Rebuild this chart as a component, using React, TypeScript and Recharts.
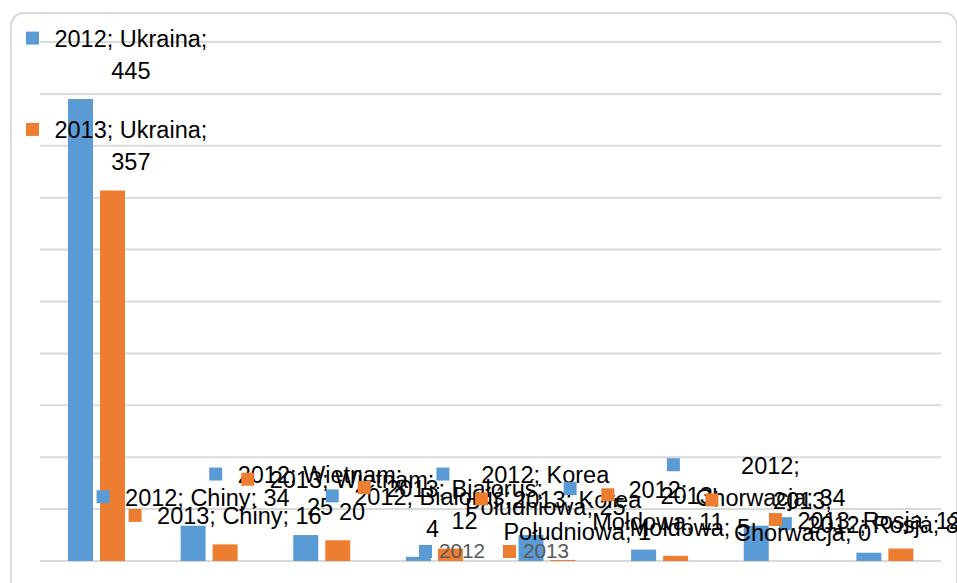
import React from 'react';
import { BarChart, Bar, XAxis, YAxis, CartesianGrid, LabelList } from 'recharts';

const CATEGORIES = ['Ukraina', 'Chiny', 'Wietnam', 'Białoruś', 'Korea Południowa', 'Mołdowa', 'Chorwacja', 'Rosja'];
const SERIES_2012 = [445, 34, 25, 4, 25, 11, 34, 8];
const SERIES_2013 = [357, 16, 20, 12, 1, 5, 0, 12];
const SERIES_NAMES = ['2012', '2013'];
const Y_TICKS = [0, 50, 100, 150, 200, 250, 300, 350, 400, 450, 500];
// number of words on the first line of each data label (0 = single line)
const LABEL_BREAKS_2012 = [2, 0, 2, 2, 2, 1, 1, 0];
const LABEL_BREAKS_2013 = [2, 0, 2, 2, 2, 1, 1, 0];

const COLORS = ['#5B9BD5', '#ED7D31'];
const FONT = "'Liberation Sans', Arial, sans-serif";
const LABEL_SIZE = 23.5;

const data = CATEGORIES.map((c, i) => ({ name: c, '2012': SERIES_2012[i], '2013': SERIES_2013[i] }));

let ctx: CanvasRenderingContext2D | null = null;
function measure(t: string): number {
  if (!ctx) {
    const c = document.createElement('canvas');
    ctx = c.getContext('2d');
  }
  if (!ctx) return t.length * LABEL_SIZE * 0.5;
  ctx.font = `${LABEL_SIZE}px 'Liberation Sans'`;
  return ctx.measureText(t).width;
}

const MARKER = 13;
const TEXT_OFFSET = 28.5;
const LINE_H = 32;

function makeLabel(series: string, color: string, breaks: number[]) {
  return (props: any) => {
    const vb = props.viewBox || props;
    const x = Number(vb.x ?? props.x);
    const y = Number(vb.y ?? props.y);
    const width = Number(vb.width ?? props.width);
    const index = CATEGORIES.indexOf(String(props.value));
    if (index < 0) return null;
    const value = data[index][series as '2012'];
    const text = `${series}; ${CATEGORIES[index]}; ${value}`;
    const tokens = text.split(' ');
    const br = breaks[index];
    const lines = br ? [tokens.slice(0, br).join(' '), tokens.slice(br).join(' ')] : [text];
    const maxW = Math.max(...lines.map(measure));
    const blockW = TEXT_OFFSET + maxW;
    const cx = x + width / 2;
    let left = cx - blockW / 2;
    left = Math.min(Math.max(left, 26), 962 - blockW);
    const bottom = y - 12;
    const n = lines.length;
    const ys = lines.map((_, k) => bottom - (n - k - 0.5) * LINE_H);
    const tx = left + TEXT_OFFSET + maxW / 2;
    return (
      <g>
        <rect x={left} y={ys[0] - 1 - MARKER / 2} width={MARKER} height={MARKER} fill={color} />
        {lines.map((l, k) => (
          <text key={k} x={tx} y={ys[k]} textAnchor="middle" dominantBaseline="central"
            fontFamily={FONT} fontSize={LABEL_SIZE} fill="#000">{l}</text>
        ))}
      </g>
    );
  };
}

const nameAccessor = (entry: any) => (entry && entry.payload ? entry.payload.name : '');

function ChartLegend() {
  return (
    <div style={{ position: 'absolute', left: 419, top: 538, display: 'flex', alignItems: 'center', fontFamily: FONT, fontSize: 20.7, color: '#595959' }}>
      {SERIES_NAMES.map((s, i) => (
        <div key={s} style={{ display: 'flex', alignItems: 'center', marginRight: 18 }}>
          <div style={{ width: 13, height: 13, background: COLORS[i], marginRight: 7 }} />
          <span style={{ lineHeight: '26px' }}>{s}</span>
        </div>
      ))}
    </div>
  );
}

export default function App() {
  return (
    <div style={{ position: 'fixed', left: 0, top: 0, width: 957, height: 583, overflow: 'hidden', background: '#fff' }}>
      <div style={{ position: 'absolute', left: 10, top: 12, width: 948, height: 640, border: '2px solid #d9d9d9', borderRadius: 14, boxSizing: 'border-box' }} />
      <div style={{ position: 'absolute', left: 0, top: 0 }}>
        <BarChart width={957} height={583} data={data} margin={{ top: 42, right: 16, bottom: 22, left: 40 }}
          barSize={25} barGap={7} style={{ fontFamily: FONT }}>
          <CartesianGrid vertical={false} stroke="#d9d9d9" strokeWidth={2} />
          <XAxis dataKey="name" hide />
          <YAxis hide domain={[0, 500]} ticks={Y_TICKS} />
          <Bar dataKey={SERIES_NAMES[0]} name={SERIES_NAMES[0]} fill={COLORS[0]} minPointSize={0.01} isAnimationActive={false}>
            <LabelList valueAccessor={nameAccessor} content={makeLabel(SERIES_NAMES[0], COLORS[0], LABEL_BREAKS_2012)} />
          </Bar>
          <Bar dataKey={SERIES_NAMES[1]} name={SERIES_NAMES[1]} fill={COLORS[1]} minPointSize={0.01} isAnimationActive={false}>
            <LabelList valueAccessor={nameAccessor} content={makeLabel(SERIES_NAMES[1], COLORS[1], LABEL_BREAKS_2013)} />
          </Bar>
        </BarChart>
      </div>
      <ChartLegend />
    </div>
  );
}
